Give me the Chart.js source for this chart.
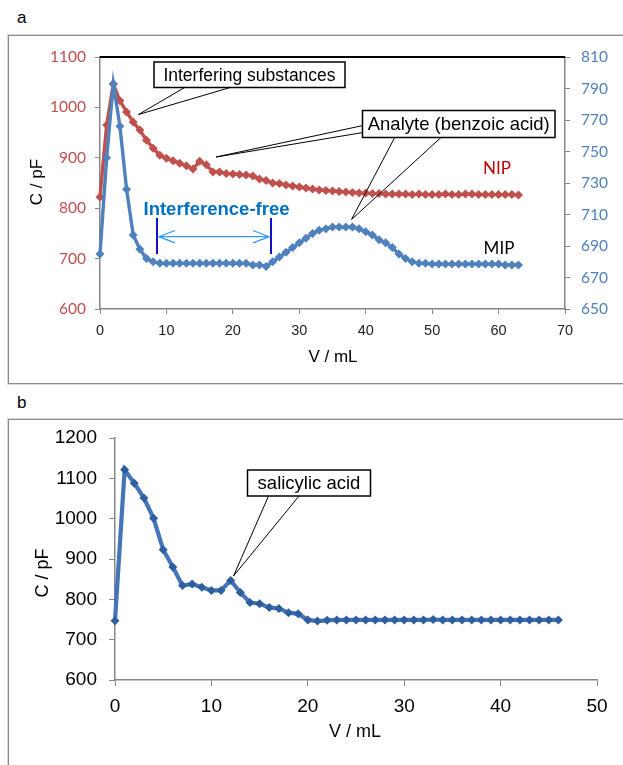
<!DOCTYPE html>
<html>
<head>
<meta charset="utf-8">
<script src="https://cdn.jsdelivr.net/npm/chart.js@4.4.1/dist/chart.umd.min.js"></script>
<style>
  body { margin: 0; background: #fff; width: 623px; height: 765px; overflow: hidden; position: relative; font-family: "Liberation Sans", Arial, sans-serif; }
  .frame { position: absolute; border: 1px solid #8a8a8a; box-shadow: 0 0 0 1px #d8d8d8; }
  .tag { position: absolute; font-size: 17px; color: #000; }
  canvas { position: absolute; left: 0; }
</style>
</head>
<body>
<div class="tag" style="left:17px;top:8px">a</div>
<div class="frame" style="left:8px;top:35px;width:700px;height:347px"></div>
<div class="tag" style="left:17px;top:393px">b</div>
<div class="frame" style="left:8px;top:419px;width:700px;height:400px"></div>
<canvas id="chartA" width="623" height="383" style="top:0"></canvas>
<canvas id="chartB" width="623" height="382" style="top:383px"></canvas>
<script>
// panel a: NIP / MIP capacitance vs volume
const volumeA = [0,1,2,3,4,5,6,7,8,9,10,11,12,13,14,15,16,17,18,19,20,21,22,23,24,25,26,27,28,29,30,31,
  32,33,34,35,36,37,38,39,40,41,42,43,44,45,46,47,48,49,50,51,52,53,54,55,56,57,58,59,60,61,62,63];
const nipValues = [822,965,1046,1013,991,971,955,935,919,905,899,894,889,884,878,893,886,872,872,869,868,867,866,864,
  858,855,850,849,846,844,842,840,838,836,835,834,833,832,831,830,830,829,829,828,828,828,828,827,828,827,827,827,
  828,827,827,828,828,827,827,827,827,827,827,826];
const mipValues = [685,746,793,766,726,697,688,682,680,679,679,679,679,679,679,679,679,679,679,679,679,679,679,678,
  678,677,680,683,686,689,692,695,698,700,701,702,702,702,702,701,699,697,694,692,689,685,682,680,679,679,678.5,678.5,
  678.5,678.5,678.5,678.5,678.5,678.5,678.5,678.5,678.5,678,678,678];

// panel b: salicylic acid
const volumeB = [0,1,2,3,4,5,6,7,8,9,10,11,12,13,14,15,16,17,18,19,20,21,22,23,24,25,26,27,28,29,30,31,
  32,33,34,35,36,37,38,39,40,41,42,43,44,45,46];
const salicylicValues = [747,1121,1088,1051,1001,923,880,834,838,830,822,822,847,817,792,789,780,777,767,764,749,746,
  748,749,749,749,749,749,749,749,749,749,749,750,749,749,749,749,749,749,749,749,749,749,749,749,749];

const axisGrey = "#868686";
const arial = "'Liberation Sans', Arial, sans-serif";
const calibri = "Lato, 'Open Sans', sans-serif";

const pts = (xs, ys) => xs.map((x, i) => ({ x, y: ys[i] }));
const plain = v => String(v);

function text(ctx, s, x, y, font, color, rot) {
  ctx.save();
  ctx.translate(x, y);
  if (rot) ctx.rotate(rot);
  ctx.font = font;
  ctx.fillStyle = color;
  ctx.textAlign = "center";
  ctx.textBaseline = "middle";
  ctx.fillText(s, 0, 0);
  ctx.restore();
}

function callout(ctx, box, label, font, wedges) {
  ctx.save();
  ctx.strokeStyle = "#000";
  ctx.lineWidth = 1;
  wedges.forEach(w => {
    ctx.beginPath();
    ctx.moveTo(w[0][0], w[0][1]);
    ctx.lineTo(w[2][0], w[2][1]);
    ctx.lineTo(w[1][0], w[1][1]);
    ctx.stroke();
  });
  ctx.fillStyle = "#fff";
  ctx.fillRect(box[0], box[1], box[2], box[3]);
  ctx.lineWidth = 1.5;
  ctx.strokeRect(box[0], box[1], box[2], box[3]);
  ctx.restore();
  text(ctx, label, box[0] + box[2] / 2, box[1] + box[3] / 2 + 1, font, "#000");
}

const annotA = {
  id: "annotA",
  afterDatasetsDraw(chart) {
    const ctx = chart.ctx;
    const a = chart.chartArea;
    ctx.save();
    ctx.strokeStyle = "#000";
    ctx.lineWidth = 2;
    ctx.beginPath();
    ctx.moveTo(a.left, a.top);
    ctx.lineTo(a.right, a.top);
    ctx.stroke();
    ctx.restore();

    callout(ctx, [154, 62, 191, 25.5], "Interfering substances", "17.5px " + arial,
      [[[185.5, 87], [232, 87], [138.5, 114.5]]]);
    callout(ctx, [362.5, 110.5, 192.5, 27], "Analyte (benzoic acid)", "18.5px " + arial,
      [[[363, 125.5], [363, 132.5], [216, 157]], [[395, 137], [441.5, 137], [351.5, 219.5]]]);

    text(ctx, "Interference-free", 216.5, 209.5, "bold 18.5px " + arial, "#0070C0");
    ctx.save();
    ctx.strokeStyle = "#1010C8";
    ctx.lineWidth = 2;
    ctx.beginPath();
    ctx.moveTo(157, 218); ctx.lineTo(157, 254);
    ctx.moveTo(271, 218); ctx.lineTo(271, 254);
    ctx.stroke();
    ctx.strokeStyle = "#3399FF";
    ctx.lineWidth = 1.3;
    ctx.beginPath();
    ctx.moveTo(159, 236.7); ctx.lineTo(269, 236.7);
    ctx.moveTo(175, 230.5); ctx.lineTo(159, 236.7); ctx.lineTo(175, 242.9);
    ctx.moveTo(253, 230.5); ctx.lineTo(269, 236.7); ctx.lineTo(253, 242.9);
    ctx.stroke();
    ctx.restore();

    text(ctx, "NIP", 497, 168.5, "17px " + calibri, "#C00000");
    text(ctx, "MIP", 499, 248.5, "17px " + calibri, "#000");

    text(ctx, "C / pF", 37, 182, "17px " + arial, "#000", -Math.PI / 2);
    text(ctx, "V / mL", 333, 357, "17px " + arial, "#000");
  }
};

new Chart(document.getElementById("chartA"), {
  type: "line",
  data: {
    datasets: [
      {
        label: "MIP", data: pts(volumeA, mipValues), yAxisID: "yR",
        borderColor: "#4F81BD", backgroundColor: "#4F81BD", borderWidth: 3.4,
        pointStyle: "rectRot", pointRadius: 4.5, pointBorderWidth: 0, tension: 0, clip: false
      },
      {
        label: "NIP", data: pts(volumeA, nipValues), yAxisID: "yL",
        borderColor: "#C0504D", backgroundColor: "#C0504D", borderWidth: 3.4,
        pointStyle: "rectRot", pointRadius: 4.5, pointBorderWidth: 0, tension: 0, clip: false
      }
    ]
  },
  options: {
    responsive: false,
    animation: false,
    devicePixelRatio: 1,
    layout: { padding: { left: 8, top: 57, right: 0, bottom: 0 } },
    plugins: { legend: { display: false }, tooltip: { enabled: false } },
    scales: {
      x: {
        type: "linear", min: 0, max: 70,
        ticks: { stepSize: 10, color: "#222", padding: 8, callback: plain, font: { family: arial, size: 14.5 } },
        grid: { drawOnChartArea: false, tickLength: 5, color: axisGrey },
        border: { color: axisGrey, width: 1.5 },
        afterFit: s => { s.height = 74; }
      },
      yL: {
        position: "left", min: 600, max: 1100,
        ticks: { stepSize: 100, color: "#C0504D", padding: 9, callback: plain, font: { family: calibri, size: 15.5 } },
        grid: { drawOnChartArea: false, tickLength: 5, color: axisGrey },
        border: { color: axisGrey, width: 1.5 },
        afterFit: s => { s.width = 92; }
      },
      yR: {
        position: "right", min: 650, max: 810,
        ticks: { stepSize: 20, color: "#4F81BD", padding: 11, callback: plain, font: { family: calibri, size: 15.5 } },
        grid: { drawOnChartArea: false, tickLength: 5, color: axisGrey },
        border: { color: axisGrey, width: 1.5 },
        afterFit: s => { s.width = 58; }
      }
    }
  },
  plugins: [annotA]
});

const annotB = {
  id: "annotB",
  afterDatasetsDraw(chart) {
    const ctx = chart.ctx;
    callout(ctx, [247.5, 87, 123, 26], "salicylic acid", "18.5px " + arial,
      [[[268.5, 113], [299, 113], [233.5, 193]]]);
    text(ctx, "C / pF", 43, 190, "18px " + arial, "#000", -Math.PI / 2);
    text(ctx, "V / mL", 355, 349, "18px " + arial, "#000");
  }
};

new Chart(document.getElementById("chartB"), {
  type: "line",
  data: {
    datasets: [{
      label: "salicylic acid", data: pts(volumeB, salicylicValues),
      borderColor: "#4674B8", backgroundColor: "#2F5E9E", borderWidth: 4.2,
      pointStyle: "rectRot", pointRadius: 4.5, pointBorderWidth: 0, tension: 0, clip: false
    }]
  },
  options: {
    responsive: false,
    animation: false,
    devicePixelRatio: 1,
    layout: { padding: { left: 8, top: 55, right: 26, bottom: 0 } },
    plugins: { legend: { display: false }, tooltip: { enabled: false } },
    scales: {
      x: {
        type: "linear", min: 0, max: 50,
        ticks: { stepSize: 10, color: "#000", padding: 9, callback: plain, font: { family: arial, size: 19 } },
        grid: { drawOnChartArea: false, tickLength: 6, color: axisGrey },
        border: { color: axisGrey, width: 1.5 },
        afterFit: s => { s.height = 85; }
      },
      y: {
        min: 600, max: 1200,
        ticks: { stepSize: 100, color: "#000", padding: 12, callback: plain, font: { family: arial, size: 19 } },
        grid: { drawOnChartArea: false, tickLength: 6, color: axisGrey },
        border: { color: axisGrey, width: 1.5 },
        afterFit: s => { s.width = 107; }
      }
    }
  },
  plugins: [annotB]
});
</script>
</body>
</html>
